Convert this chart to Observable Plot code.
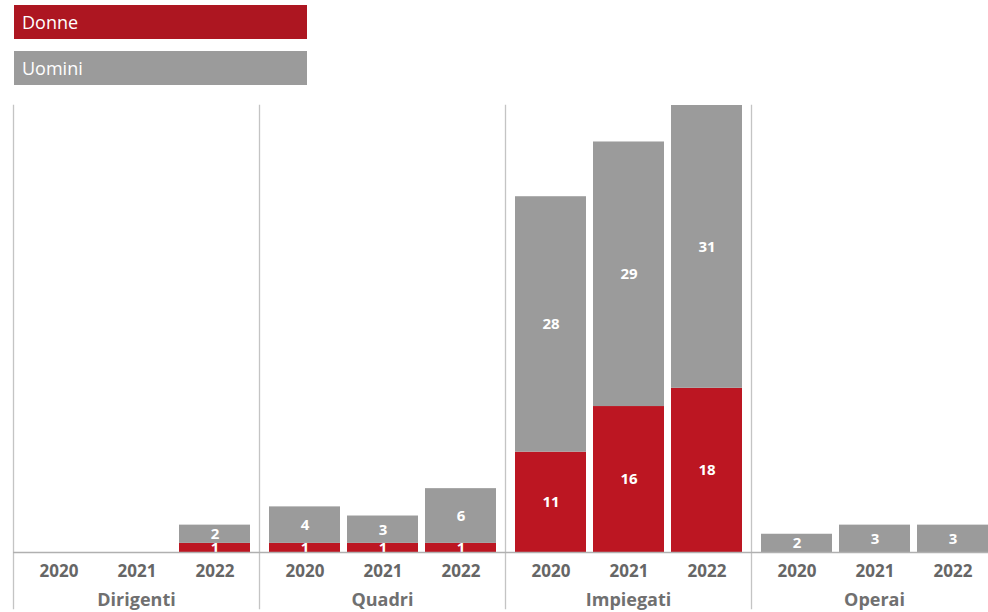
<!DOCTYPE html>
<html>
<head>
<meta charset="utf-8">
<script src="https://cdn.jsdelivr.net/npm/d3@7"></script>
<script src="https://cdn.jsdelivr.net/npm/@observablehq/plot@0.6"></script>
<style>
  html, body { margin: 0; padding: 0; background: #fff; overflow: hidden; }
  body { width: 988px; height: 612px; font-family: "Open Sans", "Noto Sans", sans-serif; }
  #legend { position: relative; height: 95px; }
  .sw { position: absolute; left: 14px; width: 293px; height: 34px; color: #fff;
        font-size: 18px; line-height: 34px; padding-left: 8px; box-sizing: border-box; }
  #chart svg [aria-label="x-axis tick label"] text,
  #chart svg [aria-label="fx-axis tick label"] text { font-weight: bold; }
</style>
</head>
<body>
<div id="legend"></div>
<div id="chart"></div>
<script>
const categories = ["Dirigenti", "Quadri", "Impiegati", "Operai"];
const years = ["2020", "2021", "2022"];
const series = ["Donne", "Uomini"];
const colors = ["#BC1622", "#9B9B9B"];
const legendColors = ["#AD1621", "#9B9B9B"];
// values per category, per year
const donne = {
  Dirigenti: [0, 0, 1],
  Quadri: [1, 1, 1],
  Impiegati: [11, 16, 18],
  Operai: [0, 0, 0]
};
const uomini = {
  Dirigenti: [0, 0, 2],
  Quadri: [4, 3, 6],
  Impiegati: [28, 29, 31],
  Operai: [2, 3, 3]
};

const data = [];
for (const c of categories) {
  years.forEach((y, i) => {
    data.push({cat: c, year: y, sex: "Donne", value: donne[c][i]});
    data.push({cat: c, year: y, sex: "Uomini", value: uomini[c][i]});
  });
}

const legend = document.getElementById("legend");
series.forEach((s, i) => {
  const d = document.createElement("div");
  d.className = "sw";
  d.style.top = (5 + i * 46) + "px";
  d.style.background = legendColors[i];
  d.textContent = s;
  legend.appendChild(d);
});

const nz = data.filter(d => d.value > 0);

const plot = Plot.plot({
  width: 997,
  height: 517,
  marginTop: 10,
  marginBottom: 60,
  marginLeft: 12,
  marginRight: 0,
  style: {maxWidth: "none", fontFamily: "'Open Sans', 'Noto Sans', sans-serif", background: "transparent"},
  fx: {domain: categories, padding: 0, label: null},
  x: {domain: years, paddingInner: 0.09, paddingOuter: 0.12, label: null},
  y: {domain: [0, 49], axis: null},
  color: {domain: series, range: colors},
  marks: [
    Plot.frame({anchor: "left", stroke: "#c4c4c4", strokeWidth: 1.3, insetBottom: -56, strokeOpacity: 1}),
    Plot.barY(nz, {fx: "cat", x: "year", y: "value", fill: "sex", z: "sex", order: series}),
    Plot.text(nz, Plot.stackY({fx: "cat", x: "year", y: "value", z: "sex", order: series, text: d => String(d.value),
      fill: "white", fontSize: 15, fontWeight: "bold"})),
    Plot.ruleY([0], {stroke: "#b0b0b0", strokeWidth: 1.3}),
    Plot.axisX({anchor: "bottom", tickSize: 0, tickPadding: 12, fontSize: 17, fill: "#666", fontWeight: "bold"}),
    Plot.axisFx({anchor: "bottom", tickSize: 0, tickPadding: 41, fontSize: 18, fill: "#707070", fontWeight: "bold", label: null})
  ]
});
document.getElementById("chart").appendChild(plot);
</script>
</body>
</html>
